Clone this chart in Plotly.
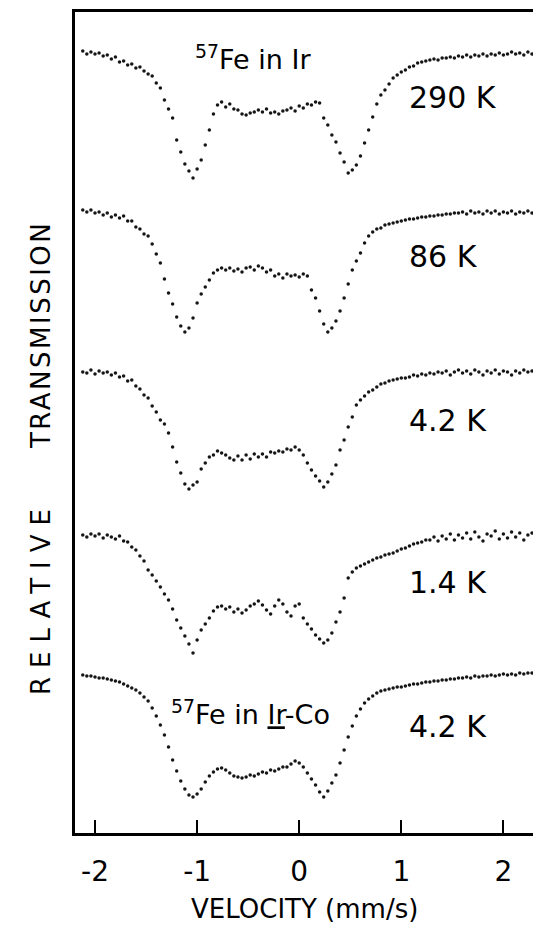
import plotly.graph_objects as go

# Velocity channels (mm/s)
VELOCITY = [
    -2.12, -2.08, -2.04, -2.00, -1.96, -1.92, -1.88, -1.84, -1.80, -1.76,
    -1.72, -1.68, -1.64, -1.60, -1.56, -1.52, -1.48, -1.44, -1.40, -1.36,
    -1.32, -1.28, -1.24, -1.20, -1.16, -1.12, -1.08, -1.04, -1.00, -0.96,
    -0.92, -0.88, -0.84, -0.80, -0.76, -0.72, -0.68, -0.64, -0.60, -0.56,
    -0.52, -0.48, -0.44, -0.40, -0.36, -0.32, -0.28, -0.24, -0.20, -0.16,
    -0.12, -0.08, -0.04, 0.00, 0.04, 0.08, 0.12, 0.16, 0.20, 0.24,
    0.28, 0.32, 0.36, 0.40, 0.44, 0.48, 0.52, 0.56, 0.60, 0.64,
    0.68, 0.72, 0.76, 0.80, 0.84, 0.88, 0.92, 0.96, 1.00, 1.04,
    1.08, 1.12, 1.16, 1.20, 1.24, 1.28, 1.32, 1.36, 1.40, 1.44,
    1.48, 1.52, 1.56, 1.60, 1.64, 1.68, 1.72, 1.76, 1.80, 1.84,
    1.88, 1.92, 1.96, 2.00, 2.04, 2.08, 2.12, 2.16, 2.20, 2.24,
    2.28,
]

# Relative transmission (arbitrary units, spectra stacked)
T_290K = [
    782, 779, 781, 779, 780, 777, 778, 774, 776, 771,
    772, 768, 769, 765, 766, 762, 759, 757, 750, 745,
    733, 724, 715, 693, 681, 669, 662, 655, 664, 673,
    688, 703, 719, 728, 731, 726, 729, 724, 723, 719,
    718, 720, 721, 723, 721, 724, 720, 721, 719, 722,
    723, 725, 722, 727, 725, 729, 728, 731, 730, 715,
    708, 698, 691, 680, 671, 660, 663, 668, 677, 690,
    703, 716, 729, 738, 743, 749, 755, 758, 761, 763,
    766, 767, 770, 771, 772, 773, 774, 773, 775, 775,
    776, 775, 777, 776, 778, 776, 778, 777, 779, 777,
    779, 778, 780, 778, 779, 781, 779, 780, 778, 781,
    779,
]
T_86K = [
    623, 621, 623, 620, 621, 618, 620, 616, 618, 615,
    617, 612, 612, 606, 604, 599, 597, 589, 579, 570,
    554, 540, 529, 516, 507, 501, 505, 515, 530, 539,
    546, 553, 560, 563, 565, 563, 565, 562, 564, 561,
    565, 566, 563, 567, 565, 561, 563, 557, 559, 555,
    559, 557, 558, 556, 559, 557, 543, 535, 522, 509,
    501, 505, 512, 522, 535, 549, 563, 572, 580, 590,
    597, 601, 604, 605, 608, 609, 610, 611, 612, 613,
    614, 614, 615, 616, 616, 617, 617, 618, 618, 619,
    619, 620, 620, 621, 619, 622, 620, 621, 619, 622,
    620, 622, 619, 621, 620, 622, 619, 621, 620, 622,
    620,
]
T_4K = [
    461, 460, 463, 459, 462, 460, 461, 458, 460, 456,
    457, 452, 453, 447, 444, 438, 435, 427, 421, 413,
    409, 400, 386, 371, 360, 349, 344, 348, 351, 364,
    370, 376, 378, 382, 380, 378, 375, 373, 377, 373,
    378, 374, 379, 376, 379, 376, 381, 380, 382, 381,
    384, 383, 386, 383, 378, 370, 363, 357, 352, 346,
    351, 359, 368, 383, 393, 406, 416, 428, 433, 437,
    441, 443, 446, 449, 450, 452, 453, 454, 455, 455,
    456, 458, 457, 459, 458, 460, 459, 461, 460, 462,
    458, 461, 463, 460, 462, 459, 463, 461, 458, 462,
    460, 463, 459, 462, 461, 458, 462, 460, 463, 461,
    462,
]
T_1K = [
    298, 296, 299, 297, 299, 295, 298, 296, 294, 297,
    292, 291, 286, 283, 277, 272, 263, 258, 252, 246,
    239, 233, 224, 213, 205, 197, 189, 180, 193, 203,
    209, 215, 222, 226, 227, 224, 226, 221, 224, 220,
    223, 227, 229, 232, 228, 223, 219, 227, 233, 229,
    221, 217, 227, 229, 215, 209, 204, 198, 194, 190,
    193, 200, 211, 221, 235, 255, 261, 265, 267, 269,
    271, 273, 275, 276, 278, 279, 280, 282, 284, 285,
    287, 289, 290, 291, 293, 293, 296, 292, 297, 294,
    299, 293, 298, 295, 300, 294, 301, 296, 292, 299,
    297, 302, 294, 299, 295, 301, 296, 300, 293, 298,
    300,
]
T_IRCO_4K = [
    158, 157, 157, 156, 155, 155, 154, 153, 152, 151,
    149, 147, 145, 143, 140, 136, 132, 125, 117, 108,
    98, 86, 73, 62, 52, 44, 38, 36, 39, 44,
    51, 57, 61, 64, 65, 63, 60, 57, 56, 55,
    56, 58, 57, 59, 61, 60, 63, 62, 64, 66,
    66, 69, 72, 70, 66, 60, 54, 48, 41, 36,
    42, 50, 58, 70, 83, 96, 107, 117, 124, 130,
    134, 137, 140, 142, 143, 144, 145, 146, 146, 147,
    148, 149, 149, 150, 151, 151, 152, 152, 153, 153,
    154, 154, 155, 155, 156, 155, 157, 156, 157, 157,
    158, 157, 158, 159, 158, 159, 158, 160, 159, 160,
    160,
]

SERIES = [T_290K, T_86K, T_4K, T_1K, T_IRCO_4K]
TEMP_LABELS = ["290 K", "86 K", "4.2 K", "1.4 K", "4.2 K"]
TICK_VALS = [-2, -1, 0, 1, 2]
TICK_TEXT = ["-2", "-1", "0", "1", "2"]

FONT = "DejaVu Sans"

fig = go.Figure()
for s in SERIES:
    fig.add_trace(go.Scatter(
        x=VELOCITY, y=s, mode="markers",
        marker=dict(size=3.5, color="#151515", line=dict(width=0)),
        hoverinfo="skip",
    ))

# temperature labels
label_y = [736, 577, 413, 251, 107]
for txt, yy in zip(TEMP_LABELS, label_y):
    fig.add_annotation(x=1.06, y=yy, xref="x", yref="y", text=txt,
                       showarrow=False, xanchor="left", yanchor="middle",
                       font=dict(family=FONT, size=30, color="black"))

fig.add_annotation(x=-0.45, y=776, xref="x", yref="y",
                   text="<sup>57</sup>Fe in Ir", showarrow=False,
                   xanchor="center", yanchor="middle",
                   font=dict(family=FONT, size=27, color="black"))
fig.add_annotation(x=-0.48, y=121, xref="x", yref="y",
                   text="<sup>57</sup>Fe in <u>Ir</u>-Co", showarrow=False,
                   xanchor="center", yanchor="middle",
                   font=dict(family=FONT, size=27, color="black"))

# axis titles
fig.add_annotation(x=0.502, y=-0.093, xref="paper", yref="paper",
                   text="VELOCITY (mm/s)", showarrow=False,
                   xanchor="center", yanchor="middle",
                   font=dict(family=FONT, size=26, color="black"))
fig.add_annotation(x=-0.074, y=(833 - 598) / 821, xref="paper", yref="paper",
                   text='<span style="letter-spacing:9px">RELATIVE</span>',
                   textangle=-90, showarrow=False,
                   xanchor="center", yanchor="middle",
                   font=dict(family=FONT, size=26, color="black"))
fig.add_annotation(x=-0.074, y=(833 - 335) / 821, xref="paper", yref="paper",
                   text='<span style="letter-spacing:2.5px">TRANSMISSION</span>',
                   textangle=-90, showarrow=False,
                   xanchor="center", yanchor="middle",
                   font=dict(family=FONT, size=26, color="black"))

fig.update_layout(
    width=539, height=928,
    margin=dict(l=75, r=6, t=12, b=95),
    paper_bgcolor="white", plot_bgcolor="white",
    showlegend=False,
)
fig.update_xaxes(
    range=[-2.196, 2.29], tickvals=TICK_VALS, ticktext=TICK_TEXT,
    ticks="inside", ticklen=13, tickwidth=2, tickcolor="black",
    showline=True, linewidth=2.5, linecolor="black", mirror=True,
    showgrid=False, zeroline=False,
    tickfont=dict(family=FONT, size=28, color="black"),
    ticklabelstandoff=12,
)
fig.update_yaxes(
    range=[0, 821], showticklabels=False, ticks="",
    showline=True, linewidth=2.5, linecolor="black", mirror=False,
    showgrid=False, zeroline=False,
)

fig.write_html("out.html",
               config={"displayModeBar": False},
               post_script="document.body.style.margin='0px';document.body.style.overflow='hidden';")
